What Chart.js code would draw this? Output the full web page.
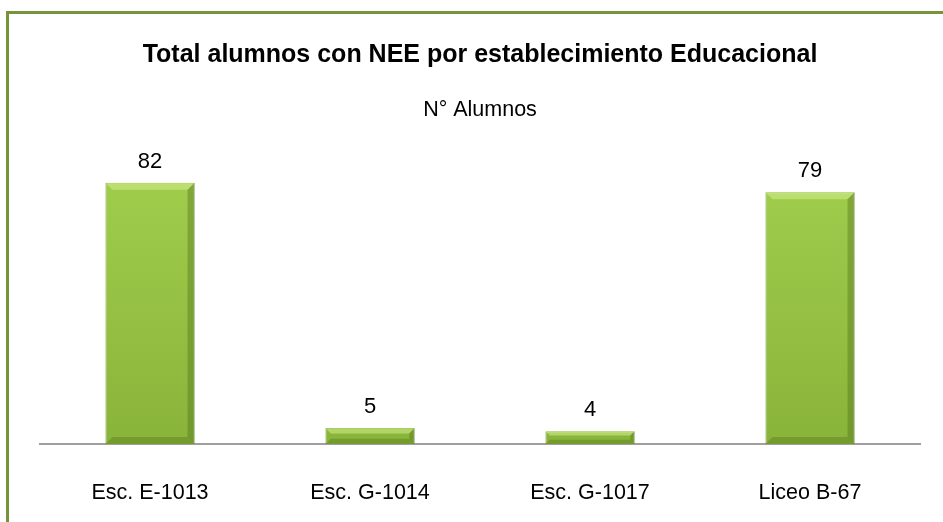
<!DOCTYPE html>
<html>
<head>
<meta charset="utf-8">
<script src="https://cdn.jsdelivr.net/npm/chart.js@4"></script>
<style>
  html, body { margin: 0; padding: 0; background: #fff; }
  #frame { position: absolute; left: 6px; top: 11px; width: 960px; height: 540px;
           border-left: 3px solid #77933C; border-top: 3px solid #77933C; }
  #wrap { position: absolute; left: 0; top: 0; width: 943px; height: 522px; }
</style>
</head>
<body>
<div id="frame"></div>
<div id="wrap"><canvas id="myChart" width="943" height="522"></canvas></div>
<script>
let schools = ['Esc. E-1013', 'Esc. G-1014', 'Esc. G-1017', 'Liceo B-67'];

let students = [82, 5, 4, 79]; // N° alumnos per school

const FONT = "'Liberation Sans', Arial, sans-serif";

//numbers above bars + a little bevel on each bar
const barExtras = {
    id: 'barExtras',
    afterDatasetsDraw(chart) {
        const ctx = chart.ctx;
        const meta = chart.getDatasetMeta(0);
        meta.data.forEach((bar, i) => {
            const left = bar.x - bar.width / 2;
            const right = bar.x + bar.width / 2;
            const top = bar.y;
            const h = bar.base - bar.y;
            const b = Math.min(7, h / 3);
            ctx.save();
            // top bevel
            ctx.fillStyle = 'rgba(210,240,140,0.55)';
            ctx.beginPath();
            ctx.moveTo(left, top); ctx.lineTo(right, top);
            ctx.lineTo(right - b, top + b); ctx.lineTo(left + b, top + b);
            ctx.closePath(); ctx.fill();
            // right bevel
            ctx.fillStyle = 'rgba(70,100,20,0.35)';
            ctx.beginPath();
            ctx.moveTo(right, top); ctx.lineTo(right, bar.base);
            ctx.lineTo(right - b, bar.base - b); ctx.lineTo(right - b, top + b);
            ctx.closePath(); ctx.fill();
            // bottom bevel
            ctx.fillStyle = 'rgba(70,100,20,0.3)';
            ctx.beginPath();
            ctx.moveTo(left, bar.base); ctx.lineTo(right, bar.base);
            ctx.lineTo(right - b, bar.base - b); ctx.lineTo(left + b, bar.base - b);
            ctx.closePath(); ctx.fill();
            // label
            ctx.fillStyle = '#000';
            ctx.font = '22px ' + FONT;
            ctx.textAlign = 'center';
            ctx.textBaseline = 'middle';
            ctx.fillText(students[i], bar.x, bar.y - 21);
            ctx.restore();
        });
    }
};

const chart = document.getElementById('myChart').getContext('2d');
const myChart = new Chart(chart, {
    type: 'bar',
    data: {
        labels: schools,
        datasets: [{
            label: 'N° Alumnos',
            data: students,
            backgroundColor: function(context) {
                const area = context.chart.chartArea;
                if (!area) return '#8FBC3F';
                const g = context.chart.ctx.createLinearGradient(0, area.top, 0, area.bottom);
                g.addColorStop(0, '#A0CC4C');
                g.addColorStop(1, '#89B43A');
                return g;
            },
            borderColor: '#7A9E2E',
            borderWidth: 1,
            categoryPercentage: 1,
            barPercentage: 0.405
        }]
    },
    options: {
        responsive: false,
        animation: false,
        layout: { padding: { left: 40, right: 23, top: 0, bottom: 16 } },
        plugins: {
            legend: { display: false },
            tooltip: { enabled: false },
            title: {
                display: true,
                text: 'Total alumnos con NEE por establecimiento Educacional',
                color: '#000',
                font: { family: FONT, size: 25, weight: 'bold' },
                padding: { top: 40, bottom: 0 }
            },
            subtitle: {
                display: true,
                text: 'N° Alumnos',
                color: '#000',
                font: { family: FONT, size: 21.5 },
                padding: { top: 27, bottom: 60 }
            }
        },
        scales: {
            x: {
                grid: { display: false, drawTicks: false },
                border: { display: true, color: '#A0A0A0', width: 2 },
                ticks: { color: '#000', font: { family: FONT, size: 21.5 }, padding: 36 },
                afterFit: function(scale) { scale.height = 62; }
            },
            y: {
                display: false,
                min: 0,
                max: 82
            }
        }
    },
    plugins: [barExtras]
});
</script>
</body>
</html>
